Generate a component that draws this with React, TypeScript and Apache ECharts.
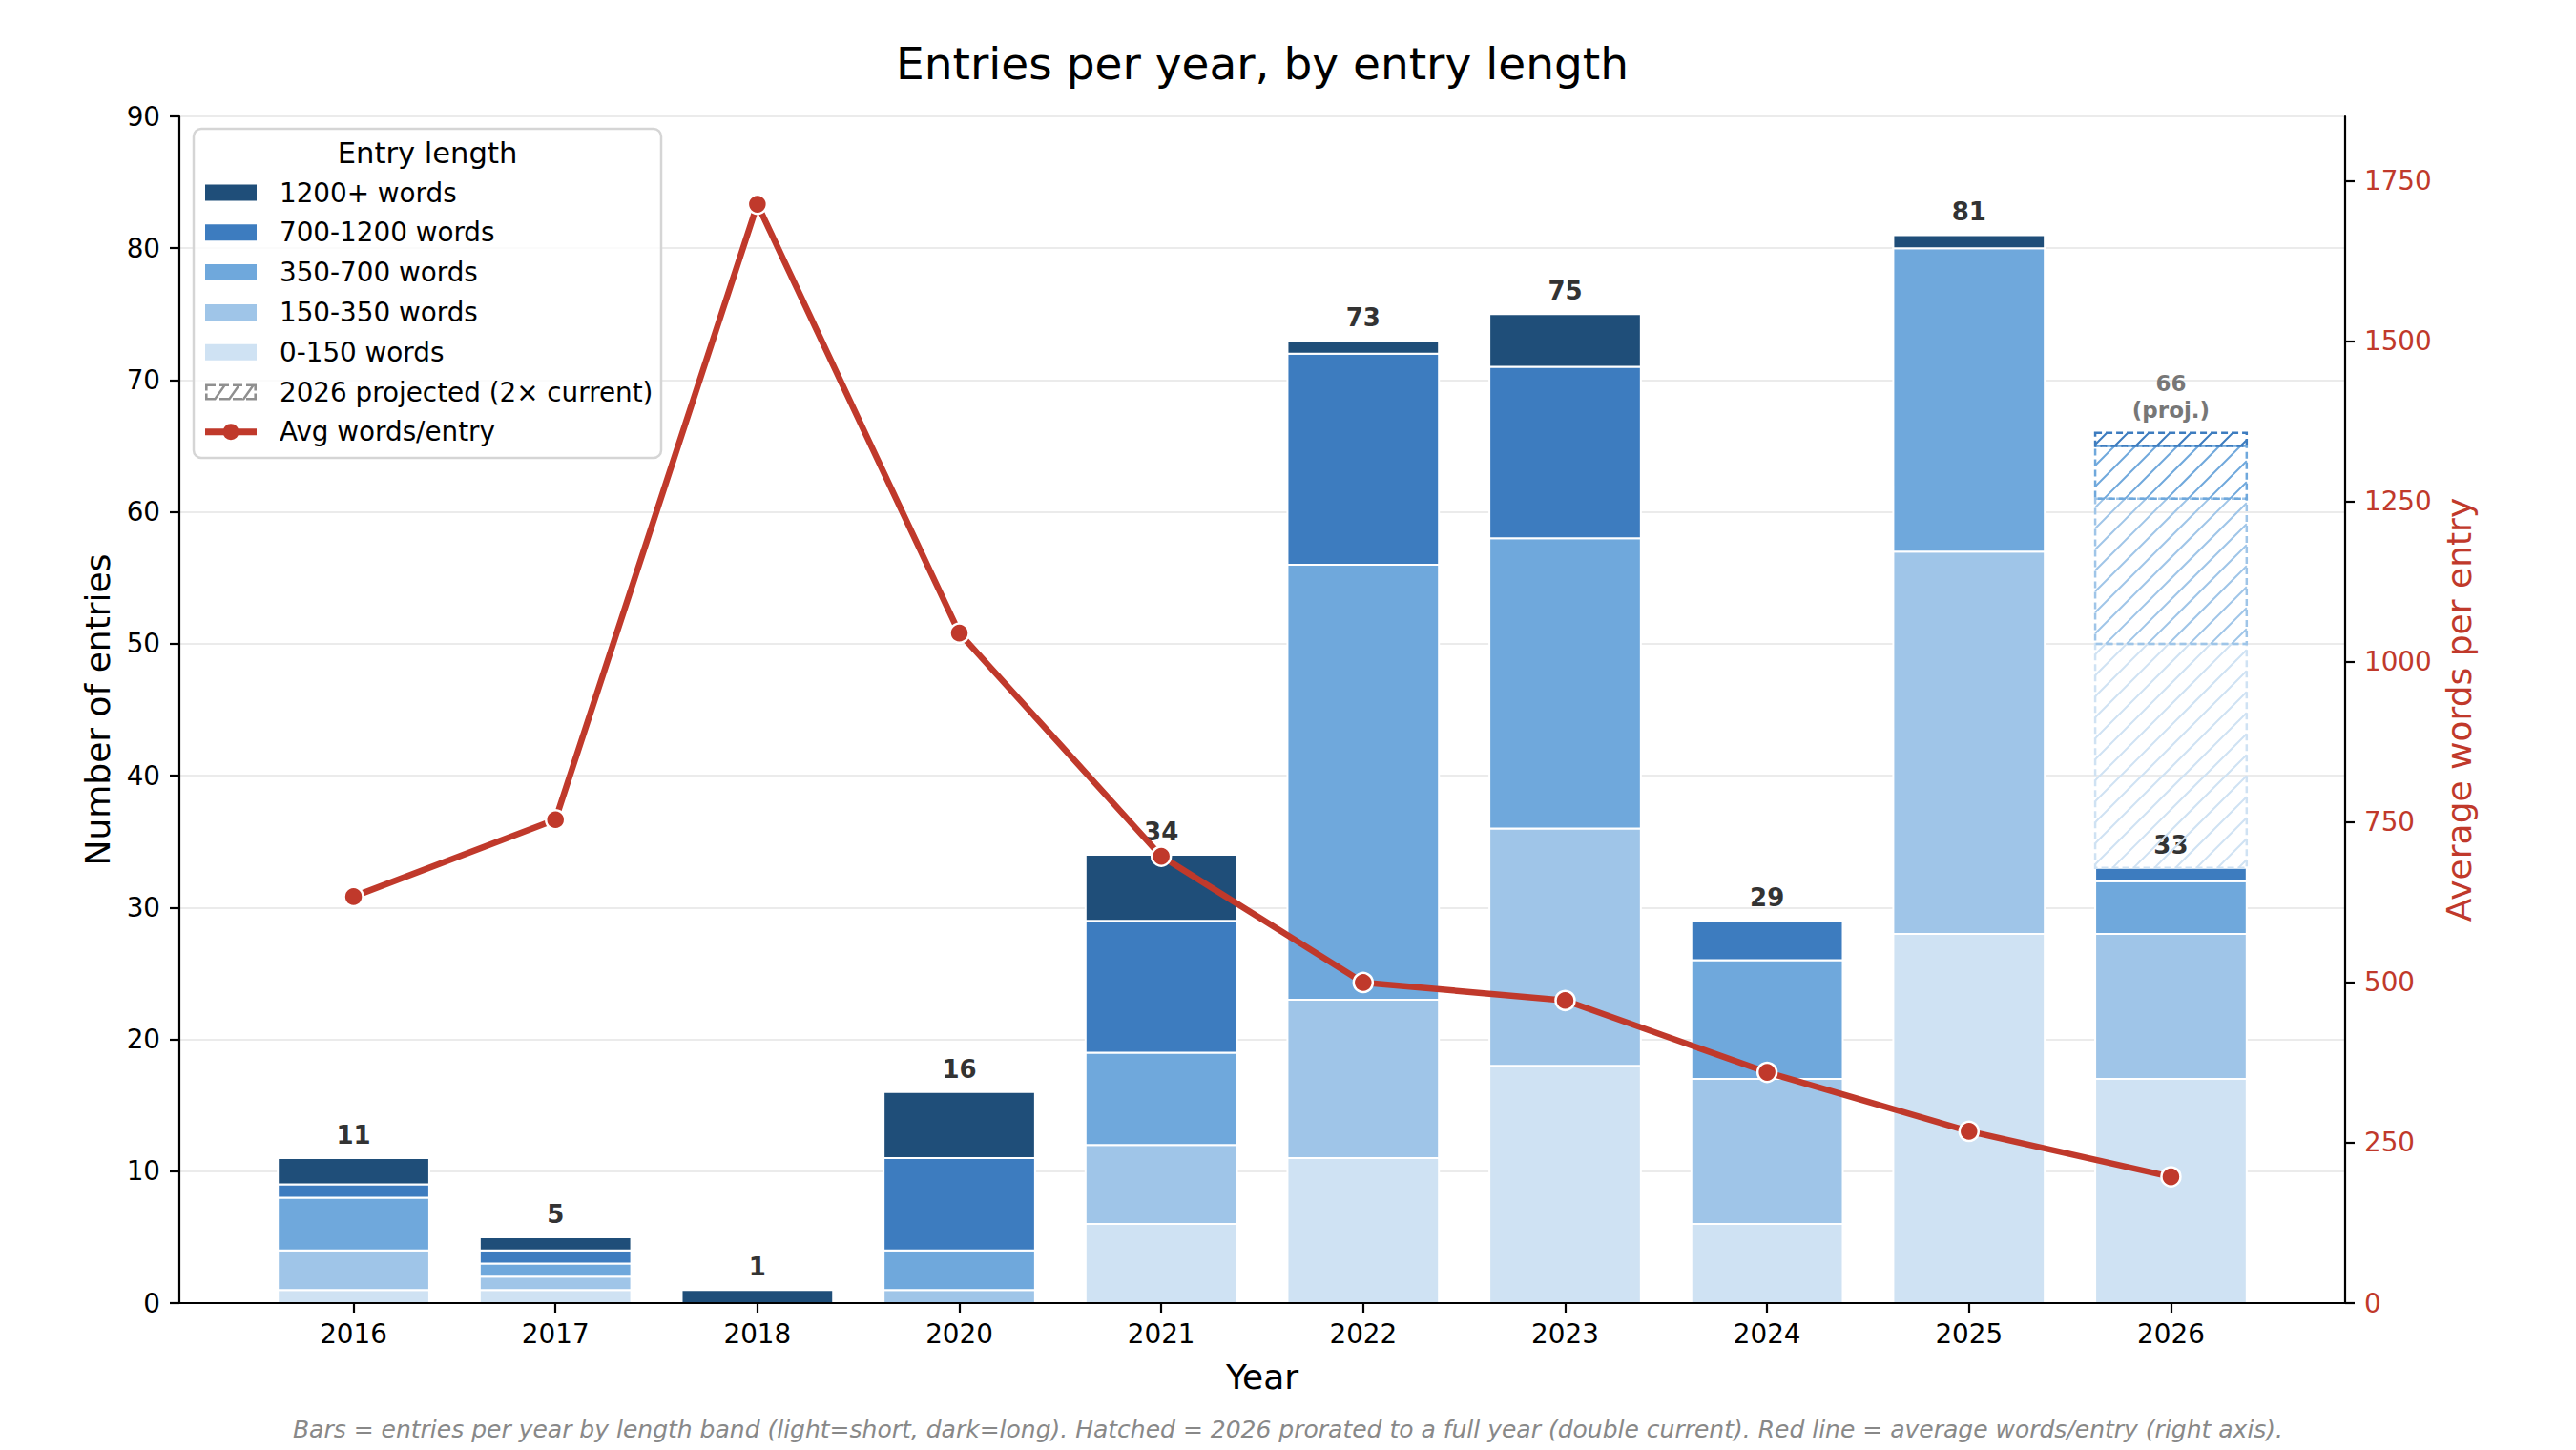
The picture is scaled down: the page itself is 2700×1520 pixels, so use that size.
import React, { useEffect, useRef } from "react";
import * as echarts from "echarts";

// ---- data ----
const years = ["2016", "2017", "2018", "2020", "2021", "2022", "2023", "2024", "2025", "2026"];

const bandNames = ["0-150 words", "150-350 words", "350-700 words", "700-1200 words", "1200+ words"];
const bandColors = ["#cfe2f3", "#9fc5e8", "#6fa8dc", "#3d7cbf", "#1f4e79"];

const words0to150 = [1, 1, 0, 0, 6, 11, 18, 6, 28, 17];
const words150to350 = [3, 1, 0, 1, 6, 12, 18, 11, 29, 11];
const words350to700 = [4, 1, 0, 3, 7, 33, 22, 9, 23, 4];
const words700to1200 = [1, 1, 0, 7, 10, 16, 13, 3, 0, 1];
const words1200plus = [2, 1, 1, 5, 5, 1, 4, 0, 1, 0];

// 2026 prorated to a full year, per band (0-150 ... 1200+)
const projected2026 = [34, 22, 8, 2, 0];

const avgWords = [634, 754, 1714, 1045, 697, 500, 472, 360, 268, 197];

const countMax = 90;
const wordsMax = 1851;
const wordTicks = [0, 250, 500, 750, 1000, 1250, 1500, 1750];

const FONT = "DejaVu Sans";
const RED = "#c0392b";
const PROJ_NAME = "2026 projected (2\u00d7 current)";
const LINE_NAME = "Avg words/entry";
const BAR_FRAC = 0.75;

// hatched legend swatch (dashed box with diagonal strokes), 54x17 box
const PROJ_ICON =
  "path://M0 0h11v2.6H0z M15 0h10v2.6H15z M29 0h10v2.6H29z M43 0h11v2.6H43z" +
  " M0 14.4h11v2.6H0z M15 14.4h10v2.6H15z M29 14.4h10v2.6H29z M43 14.4h11v2.6H43z" +
  " M0 0h2.6v7H0z M0 10h2.6v7H0z M51.4 0h2.6v7h-2.6z M51.4 10h2.6v7h-2.6z" +
  " M8 17L20 0L23 0L11 17Z M23 17L35 0L38 0L26 17Z M38 17L50 0L53 0L41 17Z";
// line with a round marker, 54x17 box
const LINE_ICON = "path://M0 5h54v7H0z M18.5 8.5a8.5 8.5 0 1 1 17 0a8.5 8.5 0 1 1 -17 0Z";

function barPiece(color: string, dashed: boolean) {
  return (_p: any, api: any) => {
    const lo = api.coord([api.value(0), api.value(1)]);
    const hi = api.coord([api.value(0), api.value(2)]);
    const w = api.size([BAR_FRAC, 0])[0];
    const left = lo[0] - w / 2;
    const right = lo[0] + w / 2;
    const top = hi[1];
    const bottom = lo[1];
    if (!dashed) {
      return {
        type: "rect",
        shape: { x: left, y: top, width: w, height: bottom - top },
        style: { fill: color, stroke: "#fff", lineWidth: 2 },
      };
    }
    const c0 = bandColors[api.value(3)];
    const step = 22;
    const children: any[] = [];
    for (let c = Math.ceil((left + top) / step) * step; c <= right + bottom; c += step) {
      const xs = Math.max(left, c - bottom);
      const xe = Math.min(right, c - top);
      if (xe > xs) {
        children.push({ type: "line", shape: { x1: xs, y1: c - xs, x2: xe, y2: c - xe }, style: { stroke: c0, lineWidth: 2 } });
      }
    }
    children.push({
      type: "rect",
      shape: { x: left, y: top, width: w, height: bottom - top },
      style: { fill: "none", stroke: c0, lineWidth: 2.5, lineDash: [7, 4] },
    });
    return { type: "group", children };
  };
}

function buildOption() {
  const bands = [words0to150, words150to350, words350to700, words700to1200, words1200plus];
  const totals = years.map((_, i) => bands.reduce((s, b) => s + b[i], 0));
  const last = years.length - 1;
  const idx = years.map((_, i) => i);

  // stacked pieces [x, from, to] per band
  const running = years.map(() => 0);
  const barSeries = bands.map((vals, k) => {
    const pieces: number[][] = [];
    vals.forEach((v, i) => {
      if (v > 0) pieces.push([i, running[i], running[i] + v]);
      running[i] += v;
    });
    return {
      name: bandNames[k],
      type: "custom",
      z: 2,
      silent: true,
      itemStyle: { color: bandColors[k] },
      data: pieces,
      encode: { x: 0, y: [1, 2] },
      renderItem: barPiece(bandColors[k], false),
    };
  });

  // hatched pieces stacked on top of the current 2026 bar
  const projPieces: number[][] = [];
  let base = totals[last];
  bands.forEach((b, k) => {
    const extra = projected2026[k] - b[last];
    if (extra > 0) {
      projPieces.push([last, base, base + extra, k]);
      base += extra;
    }
  });
  const projTotal = projected2026.reduce((s, v) => s + v, 0);

  return {
    animation: false,
    textStyle: { fontFamily: FONT },
    grid: { left: 188, right: 242, top: 122, bottom: 154, containLabel: false, outerBoundsMode: "none" },
    legend: {
      orient: "vertical",
      left: 215,
      top: 187,
      z: 10,
      padding: 0,
      itemWidth: 54,
      itemHeight: 17,
      itemGap: 11.8,
      selectedMode: false,
      symbolKeepAspect: false,
      textStyle: { fontSize: 27.8, color: "#000", lineHeight: 30, padding: [0, 0, 0, 19] },
      data: [
        ...[4, 3, 2, 1, 0].map((k) => ({ name: bandNames[k], icon: "rect", itemStyle: { color: bandColors[k], borderWidth: 0 } })),
        { name: PROJ_NAME, icon: PROJ_ICON, itemStyle: { color: "#8f8f8f", borderWidth: 0 } },
        { name: LINE_NAME, icon: LINE_ICON, itemStyle: { color: RED, borderWidth: 0 } },
      ],
    },
    xAxis: {
      type: "value",
      min: -0.8625,
      max: 9.8625,
      z: 10,
      axisLine: { show: true, onZero: false, lineStyle: { color: "#000", width: 2.2 } },
      axisTick: { show: true, customValues: idx, length: 10, lineStyle: { color: "#000", width: 2.2 } },
      axisLabel: {
        customValues: idx,
        formatter: (v: number) => years[Math.round(v)] ?? "",
        fontSize: 27.8,
        color: "#000",
        margin: 18,
      },
      splitLine: { show: false },
      name: "Year",
      nameLocation: "middle",
      nameGap: 59,
      nameTextStyle: { fontSize: 36, color: "#000" },
    },
    yAxis: [
      {
        type: "value",
        position: "left",
        min: 0,
        max: countMax,
        interval: 10,
        axisLine: { show: true, onZero: false, lineStyle: { color: "#000", width: 2.2 } },
        axisTick: { show: true, length: 10, lineStyle: { color: "#000", width: 2.2 } },
        axisLabel: { fontSize: 27.8, color: "#000", margin: 20 },
        splitLine: { show: true, lineStyle: { color: "#ebebeb", width: 2 } },
        name: "Number of entries",
        nameLocation: "middle",
        nameGap: 68,
        nameTextStyle: { fontSize: 36, color: "#000" },
      },
      {
        type: "value",
        position: "right",
        min: 0,
        max: wordsMax,
        axisLine: { show: true, onZero: false, lineStyle: { color: "#000", width: 2.2 } },
        axisTick: { show: true, customValues: wordTicks, length: 10, lineStyle: { color: "#000", width: 2.2 } },
        axisLabel: { customValues: wordTicks, formatter: (v: number) => String(v), fontSize: 27.8, color: RED, margin: 20 },
        splitLine: { show: false },
        name: "Average words per entry",
        nameLocation: "middle",
        nameGap: 94,
        nameTextStyle: { fontSize: 36, color: RED },
      },
    ],
    graphic: {
      elements: [
        {
          type: "text",
          x: 1323,
          y: 66,
          z: 10,
          style: { text: "Entries per year, by entry length", fontSize: 47, fontFamily: FONT, fill: "#000", align: "center", verticalAlign: "middle" },
        },
        {
          type: "rect",
          z: 8,
          shape: { x: 203, y: 135, width: 490, height: 345, r: 8 },
          style: { fill: "rgba(255,255,255,0.8)", stroke: "#d5d5d5", lineWidth: 2.5 },
        },
        {
          type: "text",
          x: 448,
          y: 160,
          z: 11,
          style: { text: "Entry length", fontSize: 30.6, fontFamily: FONT, fill: "#000", align: "center", verticalAlign: "middle" },
        },
        {
          type: "text",
          x: 1350,
          y: 1498,
          z: 10,
          style: {
            text: "Bars = entries per year by length band (light=short, dark=long). Hatched = 2026 prorated to a full year (double current). Red line = average words/entry (right axis).",
            fontSize: 25,
            fontStyle: "italic",
            fontFamily: FONT,
            fill: "#888",
            align: "center",
            verticalAlign: "middle",
          },
        },
      ],
    },
    series: [
      ...barSeries,
      {
        name: "totals",
        type: "custom",
        z: 3,
        silent: true,
        data: totals.map((t, i) => [i, t]),
        encode: { x: 0, y: 1 },
        renderItem: (_p: any, api: any) => {
          const pt = api.coord([api.value(0), api.value(1)]);
          return {
            type: "text",
            x: pt[0],
            y: pt[1] - 11,
            style: { text: String(api.value(1)), fontSize: 26, fontWeight: "bold", fontFamily: FONT, fill: "#333", align: "center", verticalAlign: "bottom" },
          };
        },
      },
      {
        name: PROJ_NAME,
        type: "custom",
        z: 3,
        silent: true,
        itemStyle: { color: "#8f8f8f" },
        data: projPieces,
        encode: { x: 0, y: [1, 2] },
        renderItem: barPiece("#8f8f8f", true),
      },
      {
        name: "projLabel",
        type: "custom",
        z: 3,
        silent: true,
        data: [[last, projTotal]],
        encode: { x: 0, y: 1 },
        renderItem: (_p: any, api: any) => {
          const pt = api.coord([api.value(0), api.value(1)]);
          return {
            type: "text",
            x: pt[0],
            y: pt[1] - 10,
            style: {
              text: `${api.value(1)}\n(proj.)`,
              fontSize: 23,
              fontWeight: "bold",
              fontFamily: FONT,
              lineHeight: 28,
              fill: "#777",
              align: "center",
              verticalAlign: "bottom",
            },
          };
        },
      },
      {
        name: LINE_NAME,
        type: "line",
        yAxisIndex: 1,
        z: 5,
        data: avgWords.map((v, i) => [i, v]),
        symbol: "circle",
        symbolSize: 20,
        lineStyle: { color: RED, width: 6.5 },
        itemStyle: { color: RED, borderColor: "#fff", borderWidth: 2.5 },
      },
    ],
  };
}

export default function App() {
  const chartRef = useRef<HTMLDivElement>(null);

  useEffect(() => {
    if (!chartRef.current) return;
    const chart = echarts.init(chartRef.current, null, { renderer: "svg" });
    chart.setOption(buildOption() as any);
    return () => {
      chart.dispose();
    };
  }, []);

  return <div ref={chartRef} style={{ position: "absolute", left: 0, top: 0, width: 2700, height: 1520 }} />;
}
